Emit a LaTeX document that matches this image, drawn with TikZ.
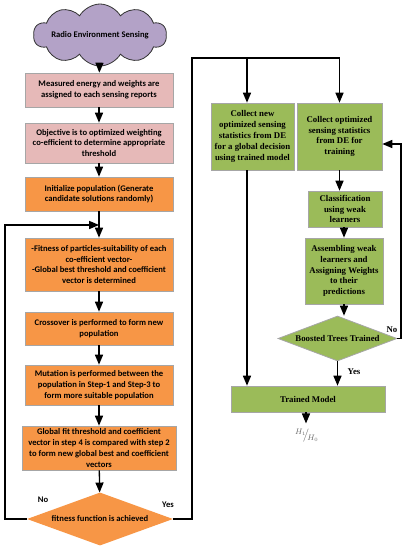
\documentclass[tikz,border=0pt]{standalone}
\usepackage{amsmath}
\usepackage{fontspec}
\setmainfont{Liberation Serif}
\newfontfamily\calfont{Carlito}
\usepackage{tikz}
\usetikzlibrary{shapes,arrows}

\definecolor{pinkbox}{HTML}{E6B9B8}
\definecolor{orangebox}{HTML}{F79646}
\definecolor{greenbox}{HTML}{9BBB59}
\definecolor{cloudfill}{HTML}{B3A2C7}

\tikzset{
  leftbox/.style={shape=rectangle, draw=gray!70, line width=0.8pt, inner sep=0pt,
    minimum width=148pt, align=center,
    font=\calfont\bfseries\fontsize{8.6}{10.8}\selectfont},
  rightbox/.style={shape=rectangle, draw=gray!70, fill=greenbox, line width=0.8pt, inner sep=0pt,
    align=center, font=\bfseries\fontsize{8.8}{10.8}\selectfont},
  flow/.style={->, line width=1.3pt},
  wire/.style={line width=1.3pt},
  lbl/.style={font=\calfont\bfseries\fontsize{8.6}{10}\selectfont},
  rlbl/.style={font=\bfseries\fontsize{8.8}{10}\selectfont}
}

\begin{document}
\begin{tikzpicture}[x=1pt, y=-1pt, >=triangle 45]
\useasboundingbox (0,0) rectangle (407,550);

% left column
\node (a) at (100,35) [shape=cloud, draw=black!80, fill=cloudfill, line width=0.8pt, cloud puffs=10, cloud puff arc=120, cloud ignores aspect, inner sep=0pt, minimum width=112pt, minimum height=62pt, font=\calfont\bfseries\fontsize{8.6}{10}\selectfont] {Radio Environment Sensing};
\node (b) at (99,90) [leftbox, fill=pinkbox, minimum height=34pt] {Measured energy and weights are\\assigned to each sensing reports};
\node (c) at (99,143) [leftbox, fill=pinkbox, minimum height=40pt] {Objective is to optimized weighting\\co-efficient to determine appropriate\\threshold};
\node (d) at (99,194) [leftbox, fill=orangebox, minimum height=34pt] {Initialize population (Generate\\candidate solutions randomly)};
\node (e) at (99,264.5) [leftbox, fill=orangebox, minimum height=53pt] {-Fitness of particles-suitability of each\\co-efficient vector-\\-Global best threshold and coefficient\\vector is determined};
\node (f) at (99,328.5) [leftbox, fill=orangebox, minimum height=33pt] {Crossover is performed to form new\\population};
\node (g) at (99,385) [leftbox, fill=orangebox, minimum height=40pt] {Mutation is performed between the\\population in Step-1 and Step-3 to\\form more suitable population};
\node (h) at (99,448) [leftbox, fill=orangebox, minimum height=44pt, minimum width=154pt] {Global fit threshold and coefficient\\vector in step 4 is compared with step 2\\to form new global best and coefficient\\vectors};
\node (i) at (100,519) [shape=diamond, fill=orangebox, inner sep=0pt, shape aspect=2.75, minimum width=146pt, minimum height=53pt, font=\calfont\bfseries\fontsize{8.6}{10}\selectfont] {fitness function is achieved};

% right column
\node (j) at (252.5,136.5) [rightbox, minimum width=83pt, minimum height=67pt] {Collect new\\optimized sensing\\statistics from DE\\for a global decision\\using trained model};
\node (k) at (339.5,136.5) [rightbox, minimum width=85pt, minimum height=67pt] {Collect optimized\\sensing statistics\\from DE for\\training};
\node (l) at (345,209) [rightbox, minimum width=74pt, minimum height=36pt] {Classification\\using weak\\learners};
\node (m) at (344,271) [rightbox, minimum width=78pt, minimum height=66pt] {Assembling weak\\learners and\\Assigning Weights\\to their\\predictions};
\node (n) at (337.5,338.5) [shape=diamond, fill=greenbox, draw=gray!70, line width=0.8pt, inner sep=0pt, shape aspect=2.6, minimum width=119pt, minimum height=45pt, font=\bfseries\fontsize{8.8}{10}\selectfont] {Boosted Trees Trained};
\node (o) at (308,399) [rightbox, minimum width=154pt, minimum height=26pt] {Trained Model};
\node (p) at (307,436) [text=gray!80!black, font=\fontsize{11}{12}\selectfont] {${}^{H_1}\!\!\big/\!{}_{H_0}$};

% turning points
\coordinate (lp) at (5,225);
\coordinate (tp) at (192,58);
\coordinate (np) at (401,144);

\draw [flow] (a) -- (b);
\draw [flow] (b) -- (c);
\draw [flow] (c) -- (d);
\draw [flow] (d) -- (e);
\draw [flow] (e) -- (f);
\draw [flow] (f) -- (g);
\draw [flow] (g) -- (h);
\draw [flow] (h) -- (i);
\draw [flow] (i.west) -| (lp) -- (lp -| d.south);
\draw [wire] (i.east) -| (tp) -- (tp -| k.north);
\draw [flow] ([xshift=-5.5pt]tp -| j.north) -- ([xshift=-5.5pt]j.north);
\draw [flow] (tp -| k.north) -- (k.north);
\draw [flow] (k.south) -- (k.south |- l.north);
\draw [flow] (l.south -| m.north) -- (m.north);
\draw [flow] (m.south) -- (m.south |- n.north);
\draw [flow] (n.east) -| (np) -- (np -| k.east);
\draw [flow] ([xshift=-5.5pt]j.south) -- ([xshift=-5.5pt]j.south |- o.north);
\draw [flow] (n.south) -- (n.south |- o.north);
\draw [flow] ([xshift=-2pt]o.south) -- ++(0,11);

\node (no1) at (43,500) [lbl] {No};
\node (yes1) at (168,505) [lbl] {Yes};
\node (no2) at (392,330) [rlbl] {No};
\node (yes2) at (354,372) [rlbl] {Yes};
\end{tikzpicture}
\end{document}
